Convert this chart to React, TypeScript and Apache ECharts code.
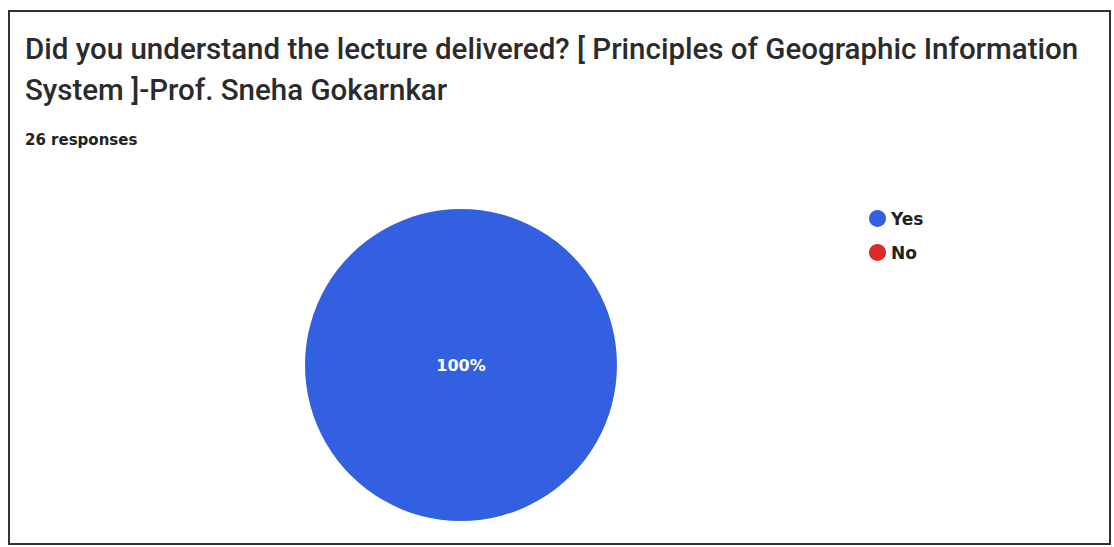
import React, { useEffect, useRef } from "react";
import * as echarts from "echarts";

const titleLines = [
  "Did you understand the lecture delivered? [ Principles of Geographic Information",
  "System ]-Prof. Sneha Gokarnkar",
];
const subtitle = "26 responses";
const categories = ["Yes", "No"];
const values = [26, 0];
const colors = ["#3360e0", "#dc2a2a"];

export default function App() {
  const ref = useRef<HTMLDivElement>(null);
  useEffect(() => {
    document.body.style.margin = "0";
    const chart = echarts.init(ref.current!, null, { renderer: "svg" });
    chart.setOption({
      animation: false,
      backgroundColor: "#ffffff",
      graphic: [
        {
          type: "rect",
          shape: { x: 9, y: 11, width: 1101, height: 533 },
          style: { fill: "none", stroke: "#333", lineWidth: 2 },
          z: 0,
        },
        {
          type: "text",
          left: 25,
          top: 28,
          style: {
            text: titleLines.join("\n"),
            font: "500 29.5px Roboto",
            fill: "#2b2b2b",
            lineHeight: 41,
          },
        },
        {
          type: "text",
          left: 25,
          top: 132,
          style: {
            text: subtitle,
            font: "bold 15px 'DejaVu Sans'",
            fill: "#222",
          },
        },
      ],
      legend: {
        orient: "vertical",
        left: 864,
        top: 205,
        icon: "circle",
        itemWidth: 17,
        itemHeight: 17,
        itemGap: 17,
        textStyle: { fontFamily: "DejaVu Sans", fontSize: 17, fontWeight: "bold", color: "#222" },
        data: categories,
      },
      series: [
        {
          type: "pie",
          center: [461, 365],
          radius: 156,
          startAngle: 90,
          data: categories.map((c, i) => ({
            name: c,
            value: values[i],
            itemStyle: { color: colors[i] },
          })),
          color: colors,
          stillShowZeroSum: false,
          label: {
            show: true,
            position: "center",
            formatter: (p: any) => (p.value > 0 ? Math.round(p.percent) + "%" : ""),
            color: "#fff",
            fontFamily: "DejaVu Sans",
            fontSize: 16,
            fontWeight: "bold",
          },
          labelLine: { show: false },
          itemStyle: { borderWidth: 0 },
          emphasis: { disabled: true },
        },
      ],
    });
    return () => chart.dispose();
  }, []);
  return <div ref={ref} style={{ width: 1114, height: 547 }} />;
}
